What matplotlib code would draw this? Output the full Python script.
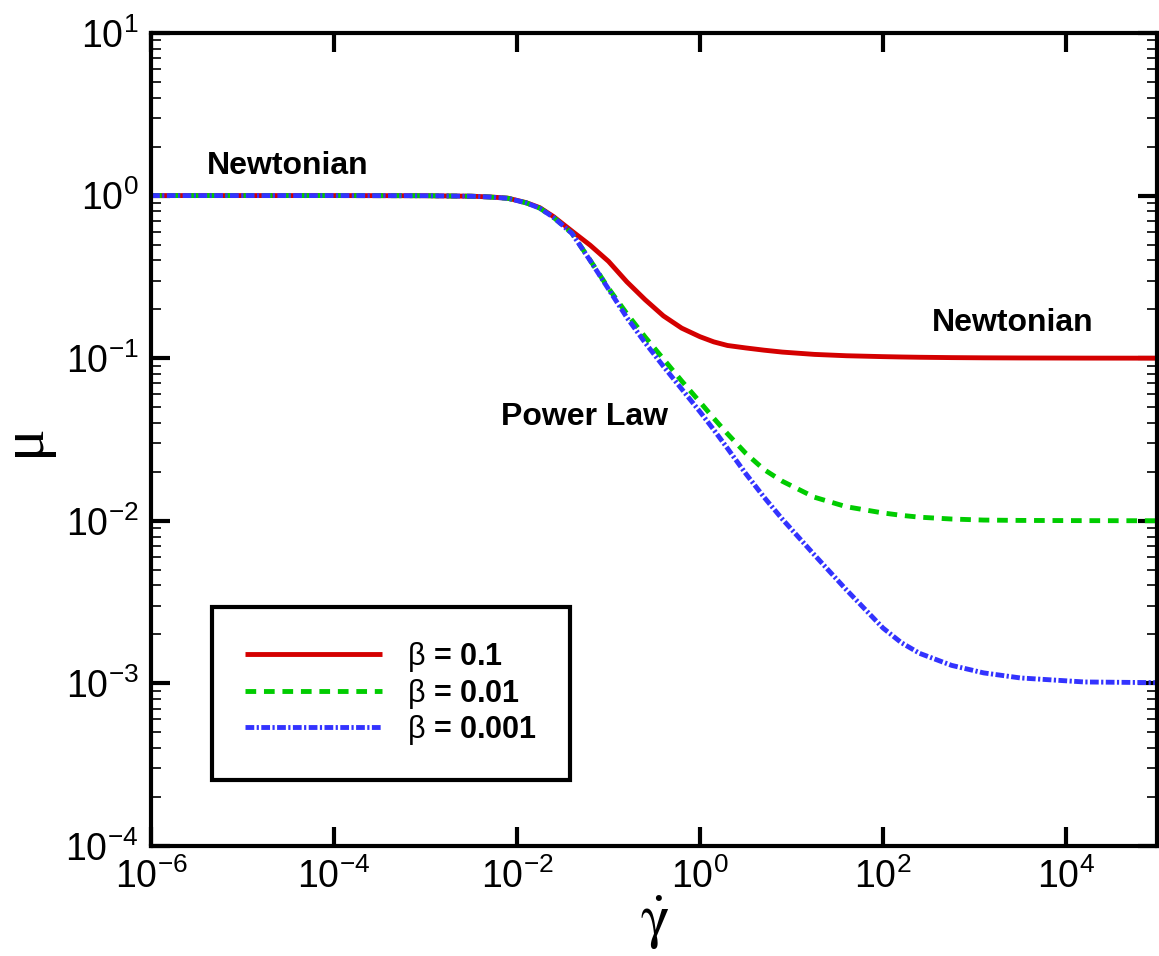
import numpy as np
import matplotlib
matplotlib.use('Agg')
import matplotlib.pyplot as plt
from matplotlib.ticker import LogLocator, NullLocator, FuncFormatter

plt.rcParams['font.family'] = ['Liberation Sans', 'DejaVu Sans']
plt.rcParams['mathtext.fontset'] = 'custom'
plt.rcParams['mathtext.rm'] = 'Liberation Sans'
plt.rcParams['mathtext.it'] = 'Liberation Sans:italic'
plt.rcParams['mathtext.bf'] = 'Liberation Sans:bold'

# shear rate samples (log10) and viscosity for each beta
log_gamma = [-6, -5, -4, -3, -2.5, -2.3, -2.1, -1.9, -1.75, -1.6, -1.4, -1.2, -1.0,
             -0.8, -0.6, -0.4, -0.2, 0.0, 0.15, 0.3, 0.5, 0.7, 0.9, 1.25, 1.6,
             2.0, 2.2, 2.4, 2.75, 3.1, 3.5, 4.2, 5.0]
mu_b01 = [1.0, 1.0, 1.0, 0.998, 0.991, 0.981, 0.964, 0.905, 0.842, 0.742, 0.605, 0.495, 0.394,
          0.295, 0.229, 0.182, 0.153, 0.1355, 0.126, 0.1197, 0.1156, 0.112, 0.109, 0.1055, 0.1035,
          0.1022, 0.1017, 0.1013, 0.1008, 0.1005, 0.1003, 0.1001, 0.1]
mu_b001 = [1.0, 1.0, 1.0, 0.998, 0.991, 0.98, 0.962, 0.902, 0.836, 0.734, 0.587, 0.40, 0.269,
           0.188, 0.135, 0.0989, 0.0724, 0.0537, 0.0427, 0.0343, 0.026, 0.02065, 0.0175, 0.01396, 0.0122,
           0.01117, 0.0108, 0.01052, 0.01025, 0.0101, 0.01005, 0.01002, 0.0100]
mu_b0001 = [1.0, 1.0, 1.0, 0.998, 0.991, 0.98, 0.962, 0.902, 0.836, 0.733, 0.586, 0.398, 0.266,
            0.178, 0.1245, 0.0891, 0.0646, 0.0468, 0.0363, 0.0279, 0.0195, 0.01396, 0.01023, 0.00617, 0.00376,
            0.00219, 0.00178, 0.00153, 0.00129, 0.00116, 0.00108, 0.00102, 0.00101]
labels = [r'$\mathrm{\beta}$ = 0.1', r'$\mathrm{\beta}$ = 0.01', r'$\mathrm{\beta}$ = 0.001']

gamma_dot = 10.0 ** np.array(log_gamma)

fig = plt.figure(figsize=(11.59, 9.56), dpi=100)
ax = fig.add_axes([0.1303, 0.1151, 0.8684, 0.8504])

ax.plot(gamma_dot, mu_b01, color='#d40000', lw=3.5, solid_capstyle='butt', label=labels[0])
ax.plot(gamma_dot, mu_b001, color='#00cc00', lw=3.5, dashes=(2.2, 1.6), label=labels[1])
ax.plot(gamma_dot, mu_b0001, color='#3333ff', lw=3.5, dashes=(1.8, 0.5, 0.45, 0.5), label=labels[2])

ax.set_xscale('log')
ax.set_yscale('log')
ax.set_xlim(1e-6, 1e5)
ax.set_ylim(1e-4, 1e1)

def pow10(v, pos):
    return r'$\mathregular{10^{%d}}$' % round(np.log10(v))

ax.xaxis.set_major_locator(LogLocator(base=100.0, numticks=10))
ax.xaxis.set_minor_locator(NullLocator())
ax.xaxis.set_major_formatter(FuncFormatter(pow10))
ax.yaxis.set_major_locator(LogLocator(base=10.0, numticks=10))
ax.yaxis.set_minor_locator(LogLocator(base=10.0, subs=np.arange(2, 10), numticks=20))
ax.yaxis.set_major_formatter(FuncFormatter(pow10))

ax.tick_params(which='both', direction='in', top=True, right=True, labelsize=27)
ax.tick_params(which='major', length=14, width=3, pad=9)
ax.tick_params(which='minor', length=7, width=1.2)
for s in ax.spines.values():
    s.set_linewidth(3)

ax.set_xlabel(r'$\dot{\mathrm{\gamma}}$', fontsize=44, math_fontfamily='stix')
ax.xaxis.set_label_coords(0.5, -0.058)
ax.set_ylabel('μ', fontsize=44, family='Liberation Serif')
ax.yaxis.set_label_coords(-0.098, 0.5)

ax.text(10 ** -4.51, 1.52, 'Newtonian', fontsize=23, fontweight='bold', ha='center', va='center')
ax.text(10 ** 3.42, 0.165, 'Newtonian', fontsize=23, fontweight='bold', ha='center', va='center')
ax.text(10 ** -1.26, 0.0435, 'Power Law', fontsize=23, fontweight='bold', ha='center', va='center')

leg = ax.legend(loc='upper left', bbox_to_anchor=(0.0606, 0.294),
                prop={'weight': 'bold', 'size': 22}, handlelength=4.48, handletextpad=0.82,
                labelspacing=0.085, borderpad=1.08, borderaxespad=0, fancybox=False, framealpha=1)
leg.get_frame().set_edgecolor('black')
leg.get_frame().set_linewidth(3)

fig.savefig('out.png', dpi=100)
